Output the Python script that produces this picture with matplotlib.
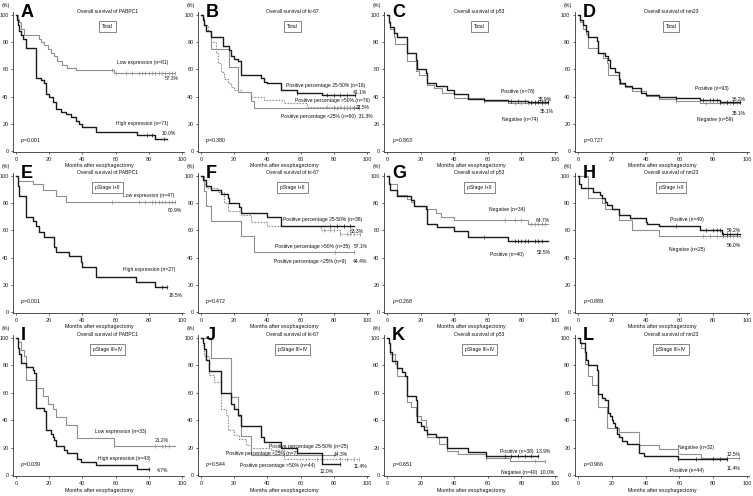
import numpy as np
import matplotlib
matplotlib.use('Agg')
import matplotlib.pyplot as plt

plt.rcParams['font.family'] = ['Liberation Sans', 'DejaVu Sans']
plt.rcParams['mathtext.fontset'] = 'custom'
plt.rcParams['mathtext.it'] = 'Liberation Sans:italic'
plt.rcParams['mathtext.rm'] = 'Liberation Sans'

# ---------------- data (months, survival %) ----------------
# A: PABPC1, total
A_low_t = [0, 1, 2, 3, 5, 14, 15, 17, 19, 21, 23, 25, 28, 31, 36, 59, 96]
A_low_s = [100, 97, 95, 90, 85.5, 82, 80, 78, 75, 72, 70, 66, 63, 61, 59.5, 57.3, 57.3]
A_low_c = [58, 60, 66, 70, 74, 76, 78, 80, 82, 84, 86, 88, 90, 92, 94, 96]
A_high_t = [0, 0.5, 1, 2, 3, 4, 6, 12, 15, 17, 18, 20, 22, 24, 27, 30, 33, 36, 38, 40, 48, 73, 84, 91]
A_high_s = [100, 96.5, 93, 88, 85, 82, 75.6, 54, 52, 50, 42, 40, 36, 31, 29, 27, 25, 22, 20, 18, 14, 11.5, 9, 9]
A_high_c = [79, 82, 89]

# B: ki-67, total
B_mid_t = [0, 1, 2, 3, 6, 13, 17, 18, 20, 22, 24, 36, 38, 40, 48, 58, 73, 93]
B_mid_s = [100, 96, 93, 88, 84, 77, 74, 70, 68, 66, 56, 54, 51, 50, 45, 43, 41.1, 41.1]
B_mid_c = [58, 76, 80, 84, 88, 93]
B_high_t = [0, 1, 2, 4, 6, 9, 10, 12, 14, 16, 18, 20, 24, 30, 38, 50, 64, 95]
B_high_s = [100, 97, 93, 88, 80, 72, 65, 58, 53, 50, 47, 45, 43.6, 39.5, 37.5, 35, 32.5, 32.5]
B_high_c = [76, 80, 84, 86, 88, 90, 92, 95]
B_low_t = [0, 1, 2, 3, 6, 17, 22, 30, 32, 95]
B_low_s = [100, 98, 93, 88, 75, 62, 43.6, 37, 31.3, 31.3]
B_low_c = [80, 82, 86, 88, 90, 92, 95]

# C: p53, total
C_pos_t = [0, 1, 2, 4, 6, 12, 17, 18, 23, 24, 29, 36, 40, 48, 58, 72, 84, 96]
C_pos_s = [100, 95, 91, 87, 84, 72, 67, 60, 57, 50, 48, 45, 42, 38.6, 37.5, 36.8, 35.9, 35.9]
C_pos_c = [58, 74, 78, 82, 86, 88, 90, 92, 94, 96]
C_neg_t = [0, 1, 2, 4, 5, 12, 17, 19, 24, 28, 33, 40, 58, 72, 84, 96]
C_neg_s = [100, 94, 90, 84, 79, 66, 59, 56, 48.5, 46, 43, 39, 37, 35.5, 35.1, 35.1]
C_neg_c = [58, 76, 80, 84, 86, 88, 92, 96]

# D: nm23, total
D_pos_t = [0, 1, 3, 5, 6, 11, 12, 16, 18, 19, 22, 24, 25, 28, 32, 37, 40, 48, 58, 72, 84, 96]
D_pos_s = [100, 96, 93, 88, 84, 81, 72, 70, 67, 61, 58, 53, 50, 48, 46, 43, 41, 40, 39, 37.5, 36.2, 36.2]
D_pos_c = [58, 74, 78, 80, 82, 84, 88, 92, 96]
D_neg_t = [0, 1, 3, 5, 6, 12, 15, 17, 18, 24, 28, 32, 40, 48, 58, 72, 96]
D_neg_s = [100, 95, 90, 86, 76, 72, 68.5, 65, 56, 49, 47, 44, 40.5, 38.5, 37, 35.1, 35.1]
D_neg_c = [58, 76, 84, 86, 88, 90, 92, 94]

# E: PABPC1, pStage I+II
E_low_t = [0, 1, 10, 16, 24, 30, 96]
E_low_s = [100, 96, 94, 90, 85, 80.9, 80.9]
E_low_c = [58, 74, 78, 82, 84, 86, 88, 90, 92, 94, 96]
E_high_t = [0, 1, 2, 6, 10, 12, 14, 17, 23, 24, 32, 39, 40, 48, 72, 84, 91]
E_high_s = [100, 93, 85, 70, 67, 63, 59, 55.5, 48, 44.4, 41, 37, 33.3, 26, 22.2, 18.5, 18.5]
E_high_c = [88, 91]

# F: ki-67, pStage I+II
F_mid_t = [0, 1, 3, 6, 12, 16, 17, 23, 24, 40, 48, 92]
F_mid_s = [100, 97, 93, 90, 87, 84, 80, 77, 73, 70, 63.3, 63.3]
F_mid_c = [78, 82, 86, 90]
F_high_t = [0, 1, 2, 3, 10, 14, 16, 24, 30, 40, 72, 84, 96]
F_high_s = [100, 97, 94, 91, 88, 80, 74, 71, 66, 63, 60, 57.1, 57.1]
F_high_c = [74, 78, 80, 84, 88, 90, 92, 96]
F_low_t = [0, 2, 3, 6, 24, 32, 92]
F_low_s = [100, 89, 78, 67, 55.6, 44.4, 44.4]
F_low_c = [81, 92]

# G: p53, pStage I+II
G_neg_t = [0, 1, 2, 6, 12, 14, 16, 24, 29, 32, 40, 84, 96]
G_neg_s = [100, 95, 94, 86, 83, 80.6, 78, 76, 73, 70, 67.3, 64.7, 64.7]
G_neg_c = [70, 76, 80, 86, 88, 90, 92, 94]
G_pos_t = [0, 1, 2, 6, 14, 16, 23, 24, 30, 40, 48, 72, 96]
G_pos_s = [100, 94, 90, 85, 82, 78, 76, 65, 62.5, 59.6, 55, 52, 52]
G_pos_c = [58, 76, 78, 80, 82, 84, 88, 90, 92]

# H: nm23, pStage I+II
H_pos_t = [0, 0.5, 2, 9, 13, 14, 16, 17, 20, 24, 31, 40, 41, 48, 72, 85, 96]
H_pos_s = [100, 94, 91, 88.5, 86, 83.5, 81, 78.7, 76, 71.4, 69, 66, 65, 63, 60.5, 57.5, 57.5]
H_pos_c = [58, 76, 80, 82, 84, 86, 88, 90, 94]
H_neg_t = [0, 6, 14, 16, 24, 32, 48, 96]
H_neg_s = [100, 84, 80, 76, 68, 60, 56, 56]
H_neg_c = [74, 78, 82, 86, 88, 90, 92, 94, 96]

# I: PABPC1, pStage III+IV
I_low_t = [0, 1, 3, 5, 6, 12, 16, 19, 22, 24, 30, 37, 59, 96]
I_low_s = [100, 97, 91, 87, 69.7, 63.6, 57.6, 51.5, 48.5, 42.4, 36.4, 27.3, 21.2, 21.2]
I_low_c = [59, 84, 88, 90, 92]
I_high_t = [0, 1, 2, 3, 6, 10, 11, 12, 17, 18, 21, 22, 23, 24, 29, 31, 37, 39, 48, 73, 80]
I_high_s = [100, 93, 88, 81.7, 79, 77, 74.4, 48.8, 46.5, 32.6, 30, 27.9, 25.6, 20.9, 18.6, 16.3, 11.6, 9.3, 7, 4.7, 4.7]
I_high_c = [80]

# J: ki-67, pStage III+IV
J_mid_t = [0, 1, 2, 3, 5, 12, 18, 20, 22, 24, 36, 38, 48, 58, 73, 84]
J_mid_s = [100, 96, 92, 84, 76, 60, 52, 48, 44, 36, 28, 24, 20, 16, 8, 8]
J_mid_c = [84]
J_high_t = [0, 1, 2, 5, 8, 12, 15, 16, 20, 23, 27, 30, 42, 50, 95]
J_high_s = [100, 95, 87, 73, 68, 48, 44, 33, 29, 26, 22, 20, 18, 11.4, 11.4]
J_high_c = [70, 84, 88, 92, 95]
J_low_t = [0, 6, 18, 22, 24, 30, 80]
J_low_s = [100, 85.7, 57.1, 42.9, 28.6, 14.3, 14.3]
J_low_c = [80]

# K: p53, pStage III+IV
K_pos_t = [0, 1, 2, 3, 6, 9, 11, 12, 17, 18, 20, 22, 24, 29, 36, 48, 59, 90]
K_pos_s = [100, 96, 90, 83, 78, 75, 72, 58, 55, 38.5, 35.6, 33, 30, 27.6, 19.4, 16.6, 13.9, 13.9]
K_pos_c = [59, 70, 74, 78, 82, 86, 90]
K_neg_t = [0, 1, 2, 5, 6, 12, 14, 17, 20, 23, 24, 31, 36, 42, 59, 73, 94]
K_neg_s = [100, 96, 88, 81, 72.5, 53, 50, 43, 40, 35, 27.5, 22.5, 17.5, 15, 12.2, 10, 10]
K_neg_c = [59, 88, 94]

# L: nm23, pStage III+IV
L_pos_t = [0, 1, 4, 5, 6, 11, 12, 14, 16, 18, 19, 20, 21, 22, 23, 24, 26, 29, 36, 39, 59, 88]
L_pos_s = [100, 96, 90, 84, 80, 77, 59, 56.5, 54.5, 45.5, 43, 40.5, 38, 35, 30, 27.5, 25, 22.7, 15.9, 13.6, 11.4, 11.4]
L_pos_c = [59, 70, 80, 84, 88]
L_neg_t = [0, 1, 2, 4, 6, 8, 12, 17, 24, 36, 48, 59, 73, 95]
L_neg_s = [100, 97, 93, 81, 72, 66, 50, 34.4, 31.3, 21.9, 18.8, 15.6, 12.5, 12.5]
L_neg_c = [80, 88, 95]

markers = ['PABPC1', 'ki-67', 'p53', 'nm23']
stages = ['Total', 'pStage I+II', 'pStage III+IV']
letters = ['A', 'B', 'C', 'D', 'E', 'F', 'G', 'H', 'I', 'J', 'K', 'L']
p_values = ['0.001', '0.380', '0.863', '0.727',
            '0.001', '0.472', '0.268', '0.889',
            '0.039', '0.544', '0.651', '0.966']

BLACK = '#1a1a1a'
GRAY = '#909090'
W, H = 753, 496

# pixel positions of month 0 / month 100 per column, and 100% / 0% per row
COLS = [(16, 182), (201, 367), (387, 555), (578, 747)]
ROWS = [(15, 151), (176, 312), (338, 475)]


def km(ax, t, s, cens, color, lw, ls='-'):
    ax.step(t, s, where='post', color=color, lw=lw, ls=ls)
    if cens:
        t_arr = np.array(t)
        cy = [s[np.searchsorted(t_arr, c, side='right') - 1] for c in cens]
        ax.plot(cens, cy, ls='none', marker='|', ms=2.2, mew=0.5, color=color)


def make_ax(fig, row, col):
    x0, x1 = COLS[col]
    ytop, ybot = ROWS[row]
    sx = (x1 - x0) / 100.0
    sy = (ybot - ytop) / 100.0
    left = x0 - 2 * sx
    right = x0 + 101 * sx
    top = ytop - 2 * sy
    bottom = ybot + 1 * sy
    ax = fig.add_axes([left / W, 1 - bottom / H, (right - left) / W, (bottom - top) / H])
    ax.set_xlim(-2, 101)
    ax.set_ylim(-1, 102)
    ax.set_xticks([0, 20, 40, 60, 80, 100])
    ax.set_yticks([0, 20, 40, 60, 80, 100])
    ax.tick_params(labelsize=4, length=1.5, width=0.5, pad=1.5, colors='#222222')
    for sp in ['top', 'right']:
        ax.spines[sp].set_visible(False)
    for sp in ['left', 'bottom']:
        ax.spines[sp].set_linewidth(0.6)
        ax.spines[sp].set_color('#333333')
    ax.patch.set_alpha(0)
    return ax


fig = plt.figure(figsize=(W / 100, H / 100), dpi=100)

# (curves, texts) per panel; curve = (t, s, censor, style)
blk = dict(color=BLACK, lw=1.0)
gry = dict(color=GRAY, lw=0.8)
dot = dict(color=GRAY, lw=0.8, ls=(0, (1.5, 1.2)))

panels = [
    ([(A_low_t, A_low_s, A_low_c, gry), (A_high_t, A_high_s, A_high_c, blk)],
     [(76, 65, 'Low expression (n=81)'), (94, 53, '57.3%'),
      (76, 20.5, 'High expression (n=71)'), (92, 12.5, '10.0%')]),
    ([(B_low_t, B_low_s, B_low_c, gry), (B_high_t, B_high_s, B_high_c, dot),
      (B_mid_t, B_mid_s, B_mid_c, blk)],
     [(75, 48.5, 'Positive percentage 25-50% (n=16)'), (96, 43, '41.1%'),
      (79, 37, 'Positive percentage >50% (n=76)'), (97.5, 32, '32.5%'),
      (76, 25, 'Positive percentage <25% (n=60)  31.3%')]),
    ([(C_neg_t, C_neg_s, C_neg_c, gry), (C_pos_t, C_pos_s, C_pos_c, blk)],
     [(78, 44, 'Positive (n=78)'), (94, 38, '35.9%'),
      (95, 29, '35.1%'), (79, 23.5, 'Negative (n=74)')]),
    ([(D_neg_t, D_neg_s, D_neg_c, gry), (D_pos_t, D_pos_s, D_pos_c, blk)],
     [(79, 46, 'Positive (n=93)'), (95, 38, '36.2%'),
      (95, 27.5, '35.1%'), (81, 23.5, 'Negative (n=59)')]),
    ([(E_low_t, E_low_s, E_low_c, gry), (E_high_t, E_high_s, E_high_c, blk)],
     [(80, 86, 'Low expression (n=47)'), (96, 75, '80.9%'),
      (80, 31, 'High expression (n=27)'), (96, 12, '18.5%')]),
    ([(F_low_t, F_low_s, F_low_c, gry), (F_high_t, F_high_s, F_high_c, dot),
      (F_mid_t, F_mid_s, F_mid_c, blk)],
     [(73, 68, 'Positive percentage 25-50% (n=38)'), (94, 59, '63.3%'),
      (67, 48.5, 'Positive percentage >50% (n=35)'), (96, 48.5, '57.1%'),
      (66, 37, 'Positive percentage <25% (n=9)'), (96, 37, '44.4%')]),
    ([(G_neg_t, G_neg_s, G_neg_c, gry), (G_pos_t, G_pos_s, G_pos_c, blk)],
     [(71.5, 75, 'Negative (n=34)'), (93, 67, '64.7%'),
      (71.5, 42.6, 'Positive (n=40)'), (93.5, 44, '52.5%')]),
    ([(H_neg_t, H_neg_s, H_neg_c, gry), (H_pos_t, H_pos_s, H_pos_c, blk)],
     [(64.5, 68, 'Positive (n=49)'), (92, 60, '59.2%'),
      (64.5, 45.6, 'Negative (n=25)'), (92, 49, '56.0%')]),
    ([(I_low_t, I_low_s, I_low_c, gry), (I_high_t, I_high_s, I_high_c, blk)],
     [(63, 31.4, 'Low expression (n=33)'), (88, 25.5, '21.2%'),
      (65, 12.4, 'High expression (n=43)'), (88, 3.6, '4.7%')]),
    ([(J_low_t, J_low_s, J_low_c, gry), (J_high_t, J_high_s, J_high_c, dot),
      (J_mid_t, J_mid_s, J_mid_c, blk)],
     [(64.5, 21, 'Positive percentage 25-50% (n=25)'), (84, 15, '14.3%'),
      (37, 16, 'Positive percentage <25% (n=7)'),
      (46, 7, 'Positive percentage >50% (n=44)'), (96, 6, '11.4%'),
      (76, 2.5, '12.0%')]),
    ([(K_neg_t, K_neg_s, K_neg_c, gry), (K_pos_t, K_pos_s, K_pos_c, blk)],
     [(82, 17, 'Positive (n=38)  13.9%'), (84, 2, 'Negative (n=40)  10.0%')]),
    ([(L_neg_t, L_neg_s, L_neg_c, gry), (L_pos_t, L_pos_s, L_pos_c, blk)],
     [(70, 20, 'Negative (n=32)'), (92, 15, '12.5%'),
      (64.5, 3, 'Positive (n=44)'), (92, 5, '11.4%')]),
]

for i, (curves, texts) in enumerate(panels):
    row, col = divmod(i, 4)
    ax = make_ax(fig, row, col)
    for t, s, c, st in curves:
        km(ax, t, s, c, **st)
    for x, y, s in texts:
        ax.text(x, y, s, fontsize=3.6, ha='center', va='center', color='#111111')
    ax.text(55, 102.5, 'Overall survival of ' + markers[col], fontsize=3.6,
            ha='center', va='center', color='#111111')
    ax.text(55, 91.5, stages[row], fontsize=3.6, ha='center', va='center',
            color='#111111',
            bbox=dict(boxstyle='square,pad=0.6', fc='white', ec='#555555', lw=0.5))
    ax.text(9, 8, '$p$=' + p_values[i], fontsize=3.8, ha='center', va='center',
            color='#111111')
    ax.text(-6, 107, '(%)', fontsize=3.8, ha='center', va='center', color='#111111')
    ax.text(50, -11, 'Months after esophagectomy', fontsize=3.8, ha='center',
            va='center', color='#111111')
    ax.text(3, 102, letters[i], fontsize=13, fontweight='bold', ha='left',
            va='center', color='black')

fig.savefig('out.png', dpi=100)
